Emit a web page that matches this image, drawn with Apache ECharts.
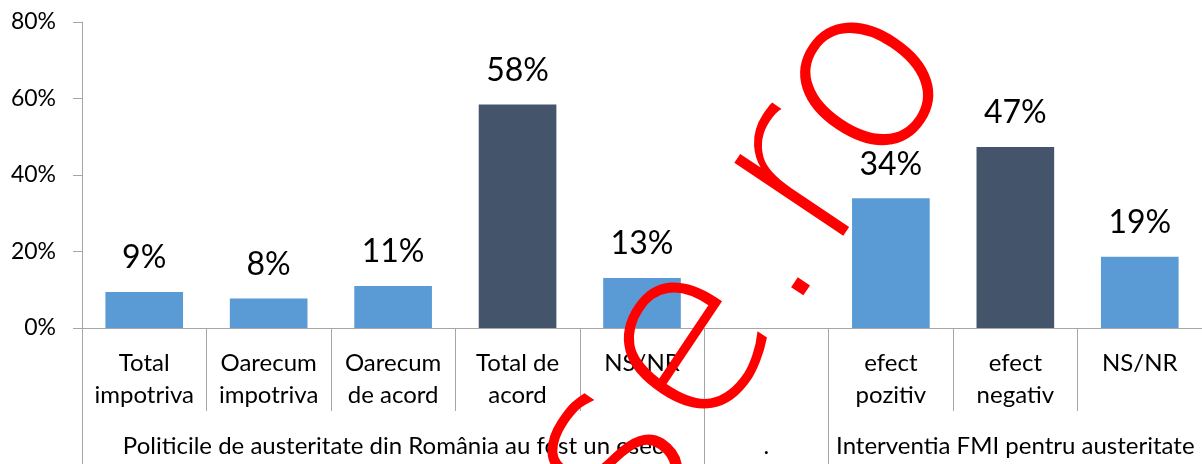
<!DOCTYPE html>
<html>
<head>
<meta charset="utf-8">
<script src="https://cdn.jsdelivr.net/npm/echarts@6/dist/echarts.min.js"></script>
<style>
  html, body { margin: 0; padding: 0; background: #fff; }
  #chart { width: 1202px; height: 464px; }
</style>
</head>
<body>
<div id="chart"></div>
<script>
// categories on the first axis row
const categories = ['Total\nimpotriva', 'Oarecum\nimpotriva', 'Oarecum\nde acord', 'Total de\nacord', 'NS/NR', '', 'efect\npozitiv', 'efect\nnegativ', 'NS/NR'];
// percentages
const values = [9.4, 7.7, 11.0, 58.4, 13.1, null, 33.9, 47.3, 18.6];
// which bars are drawn dark
const darkBars = [3, 7];
// second axis row: group titles, centred under their groups
const groupLabels = ['', '', 'Politicile de austeritate din România au fost un esec', '', '', '.', '', 'Interventia FMI pentru austeritate', ''];
const groupStarts = [0, 5, 6];

const font = 'Lato';
const axisGray = '#a6a6a6';

const option = {
    animation: false,
    // plot runs a little past the right edge of the picture
    grid: { left: 82, width: 1125, top: 22, bottom: 136, containLabel: false },
    xAxis: [
        {
            type: 'category',
            data: categories,
            axisLine: { lineStyle: { color: axisGray, width: 1 } },
            axisTick: { show: true, interval: 0, length: 83, lineStyle: { color: axisGray } },
            axisLabel: {
                interval: 0,
                margin: 19,
                color: '#000',
                fontFamily: font,
                fontSize: 24,
                lineHeight: 32
            }
        },
        {
            type: 'category',
            position: 'bottom',
            data: groupLabels,
            axisLine: { show: false },
            axisTick: {
                show: true,
                interval: (i) => groupStarts.includes(i),
                length: 136,
                lineStyle: { color: axisGray }
            },
            axisLabel: {
                interval: 0,
                margin: 102,
                color: '#000',
                fontFamily: font,
                fontSize: 24,
                lineHeight: 32
            }
        }
    ],
    yAxis: {
        type: 'value',
        min: 0,
        max: 80,
        interval: 20,
        axisLine: { show: true, lineStyle: { color: axisGray } },
        axisTick: { show: true, length: 9, lineStyle: { color: axisGray } },
        splitLine: { show: false },
        axisLabel: {
            margin: 26,
            color: '#000',
            fontFamily: font,
            fontSize: 23,
            formatter: '{value}%'
        }
    },
    series: [
        {
            type: 'bar',
            xAxisIndex: 0,
            barWidth: '62.4%',
            data: values.map((v, i) => ({
                value: v,
                itemStyle: { color: darkBars.includes(i) ? '#44546a' : '#5b9bd5' }
            })),
            label: {
                show: true,
                position: 'top',
                distance: 18,
                color: '#000',
                fontFamily: font,
                fontSize: 32,
                formatter: (p) => p.value == null ? '' : Math.round(p.value) + '%'
            }
        }
    ],
    graphic: [
        {
            // watermark
            type: 'text',
            z: 100,
            x: 746,
            y: 269,
            rotation: 0.98,
            style: {
                text: 'se.ro',
                font: '200 240px "DejaVu Sans ExtraLight", "DejaVu Sans Light"',
                align: 'center',
                verticalAlign: 'middle',
                fill: '#ff0000'
            }
        }
    ]
};

echarts.init(document.getElementById('chart')).setOption(option);
</script>
</body>
</html>
